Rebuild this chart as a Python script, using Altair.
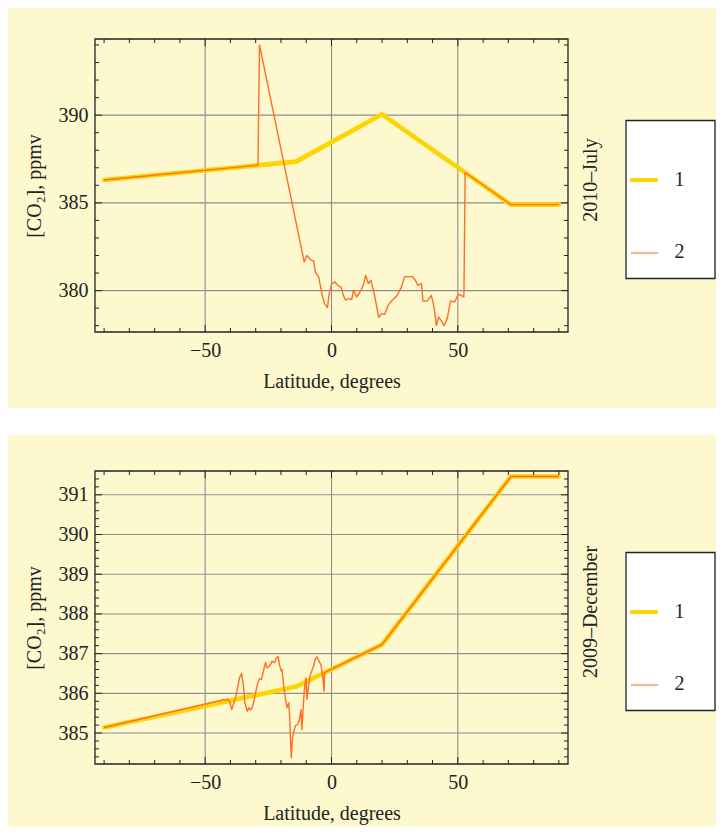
import altair as alt
import pandas as pd

# ---------------- data ----------------
series_names = ["1", "2"]

# model curve (series 1), same latitude nodes for both months
lat_line1 = [-90, -14, 20, 71, 90]
jul_co2_1 = [386.3, 387.35, 390.05, 384.9, 384.9]
dec_co2_1 = [385.14, 386.17, 387.23, 391.46, 391.46]

# measured curve (series 2), 2010-July
jul_lat_2 = [-90, -29.1, -28.5, -10.8, -9.7, -8.4, -7.1, -6.4, -5.1, -3.8, -2.8,
             -1.6, -0.9, 0.1, 1.4, 2.5, 3.8, 4.7, 5.6, 6.7, 8.0, 8.7, 10.0, 11.3,
             12.6, 13.5, 14.6, 15.6, 16.9, 17.8, 18.7, 19.8, 21.1, 22.4, 24.0,
             25.7, 27.4, 29.0, 30.3, 31.9, 33.2, 34.2, 35.6, 36.2, 37.9, 39.5,
             40.6, 41.5, 42.4, 43.4, 44.5, 45.8, 47.1, 48.7, 50.2, 51.3, 52.4,
             52.9, 71, 90]
jul_co2_2 = [386.3, 387.15, 394.0, 381.63, 382.0, 381.77, 381.69, 381.06, 380.78,
             379.83, 379.26, 379.03, 379.83, 380.4, 380.49, 380.3, 380.2, 379.73,
             379.45, 379.54, 379.49, 380.02, 379.64, 379.92, 380.3, 380.87, 380.4,
             380.59, 379.83, 379.16, 378.46, 378.69, 378.65, 379.16, 379.45,
             379.67, 380.11, 380.81, 380.78, 380.81, 380.59, 380.3, 380.4, 379.41,
             379.41, 379.73, 379.06, 378.0, 378.49, 378.3, 378.0, 378.4, 379.41,
             379.35, 379.79, 379.73, 379.64, 386.73, 384.9, 384.9]

# measured curve (series 2), 2009-December
dec_lat_2 = [-90, -43.9, -42.9, -41.9, -41.2, -40.3, -39.5, -38.6, -37.9, -37.3,
             -36.4, -35.6, -34.9, -34.3, -33.3, -32.7, -32.0, -31.4, -30.7, -30.1,
             -29.1, -28.5, -27.7, -26.8, -26.1, -25.5, -24.8, -24.2, -23.5, -22.6,
             -21.8, -21.1, -20.6, -19.9, -19.6, -18.9, -18.3, -17.6, -16.9, -16.5,
             -16.3, -15.9, -15.5, -15.0, -14.3, -13.4, -12.8, -12.1, -11.7, -11.3,
             -10.8, -10.1, -9.7, -9.1, -8.4, -7.8, -7.1, -6.5, -5.8, -4.9, -4.2,
             -3.5, -2.9, -2.8, 20, 71, 90]
dec_co2_2 = [385.14, 385.82, 385.85, 385.82, 385.86, 385.80, 385.59, 385.76,
             385.91, 386.10, 386.39, 386.50, 386.22, 385.76, 385.55, 385.64,
             385.58, 385.64, 385.80, 386.01, 386.27, 386.37, 386.35, 386.60,
             386.78, 386.64, 386.67, 386.72, 386.81, 386.77, 386.89, 386.93,
             386.72, 386.56, 386.60, 386.18, 385.89, 385.64, 385.76, 385.34,
             384.92, 384.38, 384.84, 385.01, 385.18, 385.22, 385.30, 385.59,
             385.09, 385.55, 386.05, 386.39, 385.85, 386.18, 386.47, 386.56,
             386.68, 386.85, 386.92, 386.81, 386.72, 386.43, 386.05, 386.52,
             387.23, 391.46, 391.46]

assert len(jul_lat_2) == len(jul_co2_2)
assert len(dec_lat_2) == len(dec_co2_2)

# axis ticks
x_major = [-50, 0, 50]
x_minor = [-90, -80, -70, -60, -40, -30, -20, -10, 10, 20, 30, 40, 60, 70, 80, 90]
jul_y_major = [380, 385, 390]
jul_y_minor = [378, 379, 381, 382, 383, 384, 386, 387, 388, 389, 391, 392, 393, 394]
dec_y_major = [385, 386, 387, 388, 389, 390, 391]
dec_y_minor = [round(384.4 + 0.2 * i, 1) for i in range(36) if i % 5 != 3]

# ---------------- style ----------------
W, H = 473, 293
X_DOMAIN = [-93.6, 93.6]
FONT = "Liberation Serif"
FS = 20
BG = "#FEF8CF"
GOLD = "#FFD400"
ORANGE = "#FF6E26"
SALMON = "#F9B496"
GRID = "#8E8E8E"
INK = "#222222"
BG_LEFT, BG_RIGHT = -87, 621


def panel(lat1, co2_1, lat2, co2_2, ydom, ymaj, ymin, month, bg_top, bg_bot):
    xs = alt.Scale(domain=X_DOMAIN, nice=False, zero=False)
    ys = alt.Scale(domain=ydom, nice=False, zero=False)
    xaxis = alt.Axis(values=x_major, title="Latitude, degrees", grid=False,
                     domain=False, ticks=False, tickSize=0, labelPadding=8,
                     labelFont=FONT, labelFontSize=FS, labelColor=INK,
                     labelFlush=False, titleFont=FONT, titleFontSize=FS,
                     titleFontWeight="normal", titleColor=INK, titleY=49,
                     titleBaseline="middle", zindex=1)
    yaxis = alt.Axis(values=ymaj, title="[CO₂], ppmv", grid=False,
                     domain=False, ticks=False, tickSize=0, labelPadding=7,
                     labelFont=FONT, labelFontSize=FS, labelColor=INK,
                     labelFlush=False, titleFont=FONT, titleFontSize=FS,
                     titleFontWeight="normal", titleColor=INK, titleX=-61,
                     titleY=H / 2, titleAngle=270, titleAlign="center",
                     titleBaseline="middle", zindex=1)

    def X(f):
        return alt.X(f, type="quantitative", scale=xs, axis=xaxis)

    def Y(f):
        return alt.Y(f, type="quantitative", scale=ys, axis=yaxis)

    one = pd.DataFrame({"k": [0]})
    layers = []
    layers.append(alt.Chart(one).mark_rect(color=BG).encode(
        x=alt.value(BG_LEFT), x2=alt.value(BG_RIGHT),
        y=alt.value(bg_top), y2=alt.value(bg_bot)))
    # grid
    layers.append(alt.Chart(pd.DataFrame({"lat": x_major})).mark_rule(
        color=GRID, strokeWidth=1.1).encode(x=X("lat")))
    layers.append(alt.Chart(pd.DataFrame({"co2": ymaj})).mark_rule(
        color=GRID, strokeWidth=1.1).encode(y=Y("co2")))
    # series
    d1 = pd.DataFrame({"lat": lat1, "co2": co2_1})
    d2 = pd.DataFrame({"lat": lat2, "co2": co2_2})
    layers.append(alt.Chart(d1).mark_line(color=GOLD, strokeWidth=4.6,
                                          strokeJoin="round", strokeCap="round")
                  .encode(x=X("lat"), y=Y("co2")))
    layers.append(alt.Chart(d2).mark_line(color=ORANGE, strokeWidth=1.4,
                                          strokeJoin="round")
                  .encode(x=X("lat"), y=Y("co2")))
    # inward frame ticks
    for vals, L in [(x_major, 7), (x_minor, 4)]:
        base = alt.Chart(pd.DataFrame({"lat": vals})).mark_rule(color=INK, strokeWidth=1)
        layers.append(base.encode(x=X("lat"), y=alt.value(H), y2=alt.value(H - L)))
        layers.append(base.encode(x=X("lat"), y=alt.value(0), y2=alt.value(L)))
    for vals, L in [(ymaj, 7), (ymin, 4)]:
        base = alt.Chart(pd.DataFrame({"co2": vals})).mark_rule(color=INK, strokeWidth=1)
        layers.append(base.encode(y=Y("co2"), x=alt.value(0), x2=alt.value(L)))
        layers.append(base.encode(y=Y("co2"), x=alt.value(W), x2=alt.value(W - L)))
    # frame
    layers.append(alt.Chart(one).mark_rect(filled=False, stroke=INK, strokeWidth=1.3)
                  .encode(x=alt.value(0), x2=alt.value(W), y=alt.value(0), y2=alt.value(H)))
    # month label
    layers.append(alt.Chart(one).mark_text(text=month, angle=270, font=FONT,
                                           fontSize=FS, color=INK, align="center",
                                           baseline="middle")
                  .encode(x=alt.value(496), y=alt.value(141)))
    # legend box
    layers.append(alt.Chart(one).mark_rect(fill="white", stroke=INK, strokeWidth=1.3)
                  .encode(x=alt.value(531), x2=alt.value(620),
                          y=alt.value(81.5), y2=alt.value(239.5)))
    layers.append(alt.Chart(one).mark_rule(color=GOLD, strokeWidth=4)
                  .encode(x=alt.value(535), x2=alt.value(563), y=alt.value(141)))
    layers.append(alt.Chart(one).mark_rule(color=SALMON, strokeWidth=2.2)
                  .encode(x=alt.value(536), x2=alt.value(563), y=alt.value(214)))
    for name, yy in zip(series_names, [141, 213]):
        layers.append(alt.Chart(one).mark_text(text=name, font=FONT, fontSize=FS,
                                               color=INK, align="center",
                                               baseline="middle")
                      .encode(x=alt.value(584.5), y=alt.value(yy)))
    return alt.layer(*layers).properties(width=W, height=H)


top = panel(lat_line1, jul_co2_1, jul_lat_2, jul_co2_2, [377.64, 394.34],
            jul_y_major, jul_y_minor, "2010–July", -31, 369)
bottom = panel(lat_line1, dec_co2_1, dec_lat_2, dec_co2_2, [384.22, 391.6],
               dec_y_major, dec_y_minor, "2009–December", -36, 356)

chart = (alt.vconcat(top, bottom, spacing=27)
         .properties(padding=0, background="white")
         .configure_view(strokeWidth=0))

chart.save("out.html", embed_options={"renderer": "svg", "actions": False})
